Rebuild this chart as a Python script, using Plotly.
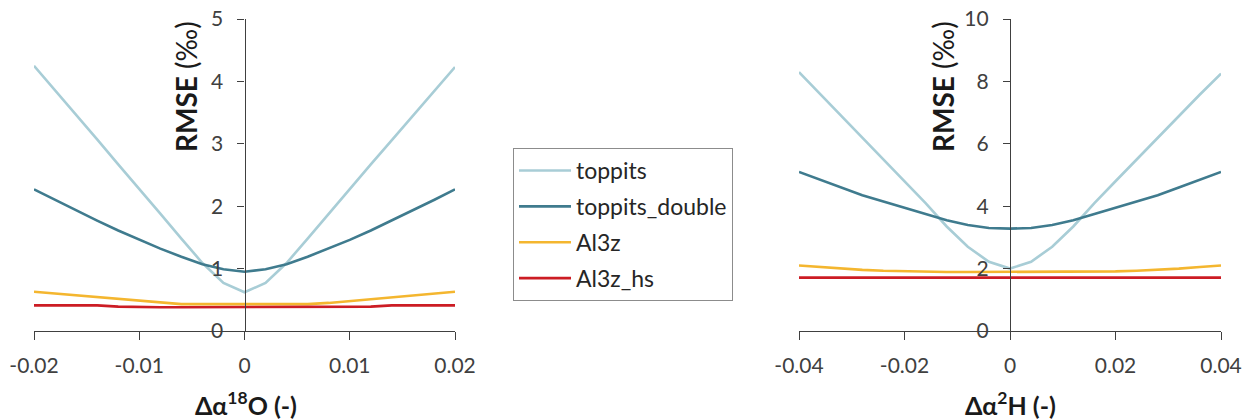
import plotly.graph_objects as go

# ---------------- data ----------------
x_o18 = [-0.020, -0.018, -0.016, -0.014, -0.012, -0.010, -0.008, -0.006, -0.004, -0.002, 0.0,
         0.002, 0.004, 0.006, 0.008, 0.010, 0.012, 0.014, 0.016, 0.018, 0.020]
o18_toppits = [4.25, 3.86, 3.46, 3.07, 2.67, 2.28, 1.88, 1.48, 1.09, 0.77, 0.62,
               0.77, 1.09, 1.48, 1.88, 2.28, 2.67, 3.06, 3.45, 3.84, 4.23]
o18_toppits_double = [2.27, 2.10, 1.93, 1.77, 1.61, 1.46, 1.32, 1.19, 1.07, 0.99, 0.95,
                      0.99, 1.07, 1.19, 1.32, 1.46, 1.61, 1.77, 1.93, 2.10, 2.27]
o18_al3z = [0.63, 0.60, 0.57, 0.54, 0.51, 0.48, 0.45, 0.43, 0.43, 0.43, 0.43,
            0.43, 0.43, 0.43, 0.45, 0.48, 0.51, 0.54, 0.57, 0.60, 0.63]
o18_al3z_hs = [0.41, 0.41, 0.41, 0.41, 0.39, 0.38, 0.38, 0.38, 0.38, 0.38, 0.38,
               0.38, 0.38, 0.38, 0.38, 0.38, 0.39, 0.41, 0.41, 0.41, 0.41]

x_h2 = [-0.040, -0.036, -0.032, -0.028, -0.024, -0.020, -0.016, -0.012, -0.008, -0.004, 0.0,
        0.004, 0.008, 0.012, 0.016, 0.020, 0.024, 0.028, 0.032, 0.036, 0.040]
h2_toppits = [8.30, 7.60, 6.90, 6.20, 5.50, 4.80, 4.10, 3.35, 2.70, 2.22, 2.00,
              2.22, 2.70, 3.35, 4.10, 4.80, 5.50, 6.20, 6.90, 7.58, 8.25]
h2_toppits_double = [5.10, 4.85, 4.60, 4.35, 4.15, 3.95, 3.75, 3.55, 3.40, 3.30, 3.28,
                     3.30, 3.40, 3.55, 3.75, 3.95, 4.15, 4.35, 4.60, 4.85, 5.10]
h2_al3z = [2.10, 2.05, 2.00, 1.96, 1.93, 1.91, 1.90, 1.89, 1.89, 1.89, 1.89,
           1.89, 1.89, 1.89, 1.90, 1.91, 1.93, 1.96, 2.00, 2.05, 2.10]
h2_al3z_hs = [1.71] * 21

series_names = ["toppits", "toppits_double", "Al3z", "Al3z_hs"]
series_colors = ["#a8cdd6", "#3f7b8e", "#f4b62f", "#cc1c24"]

o18_ticks = [-0.02, -0.01, 0.0, 0.01, 0.02]
o18_ticktext = ["-0.02", "-0.01", "0", "0.01", "0.02"]
h2_ticks = [-0.04, -0.02, 0.0, 0.02, 0.04]
h2_ticktext = ["-0.04", "-0.02", "0", "0.02", "0.04"]

y1_ticks = [0, 1, 2, 3, 4, 5]
y2_ticks = [0, 2, 4, 6, 8, 10]

# ---------------- figure ----------------
W, H = 1245, 419
FONT = "Lato, 'Open Sans', sans-serif"
AXC = "#404040"
TXT = "#404040"


def fx(px):
    return px / W


def fy(py):
    return 1 - py / H


fig = go.Figure()

o18_series = [o18_toppits, o18_toppits_double, o18_al3z, o18_al3z_hs]
h2_series = [h2_toppits, h2_toppits_double, h2_al3z, h2_al3z_hs]

for name, col, ys in zip(series_names, series_colors, o18_series):
    fig.add_trace(go.Scatter(x=x_o18, y=ys, mode="lines", name=name,
                             line=dict(color=col, width=2.6),
                             legendgroup=name, showlegend=True,
                             xaxis="x", yaxis="y"))
for name, col, ys in zip(series_names, series_colors, h2_series):
    fig.add_trace(go.Scatter(x=x_h2, y=ys, mode="lines", name=name,
                             line=dict(color=col, width=2.6),
                             legendgroup=name, showlegend=False,
                             xaxis="x2", yaxis="y2"))

xd1 = [fx(34), fx(455)]
xd2 = [fx(799), fx(1221)]
yd = [fy(331), fy(19)]


def ypos(dom, lo, hi):
    return dom[0] + (0 - lo) / (hi - lo) * (dom[1] - dom[0])


common_x = dict(showgrid=False, zeroline=False, showline=True, linecolor=AXC, linewidth=1.3,
                ticks="outside", ticklen=8, tickcolor=AXC, tickwidth=1.3, automargin=False,
                ticklabeloverflow="allow",
                tickfont=dict(family=FONT, size=21, color=TXT), ticklabelstandoff=8)
common_y = dict(showgrid=False, zeroline=False, showline=True, linecolor=AXC, linewidth=1.3,
                ticks="outside", ticklen=7, tickcolor=AXC, tickwidth=1.3, automargin=False,
                ticklabeloverflow="allow",
                tickfont=dict(family=FONT, size=21, color=TXT), ticklabelstandoff=10,
                anchor="free")

fig.update_layout(
    width=W, height=H,
    margin=dict(l=0, r=0, t=0, b=0, autoexpand=False),
    paper_bgcolor="white", plot_bgcolor="rgba(0,0,0,0)",
    xaxis=dict(domain=xd1, range=[-0.02, 0.02], tickvals=o18_ticks, ticktext=o18_ticktext,
               anchor="y", **common_x),
    yaxis=dict(domain=yd, range=[0, 5], tickvals=y1_ticks,
               position=ypos(xd1, -0.02, 0.02), **common_y),
    xaxis2=dict(domain=xd2, range=[-0.04, 0.04], tickvals=h2_ticks, ticktext=h2_ticktext,
                anchor="y2", **common_x),
    yaxis2=dict(domain=yd, range=[0, 10], tickvals=y2_ticks,
                position=ypos(xd2, -0.04, 0.04), **common_y),
    legend=dict(x=fx(513), y=fy(148), xanchor="left", yanchor="top",
                bordercolor="#8c8c8c", borderwidth=1, bgcolor="white",
                font=dict(family=FONT, size=23, color="#262626"),
                traceorder="grouped", tracegroupgap=3, itemwidth=52),
    showlegend=True,
)

ytitle_font = dict(family=FONT, size=28, color="#1a1a1a")
xtitle_font = dict(family=FONT, size=25, color="#1a1a1a")
fig.add_annotation(x=fx(186), y=fy(87), xref="paper", yref="paper", xanchor="center",
                   yanchor="middle", text="<b>RMSE</b> (‰)", textangle=-90, showarrow=False,
                   font=ytitle_font)
fig.add_annotation(x=fx(943), y=fy(87), xref="paper", yref="paper", xanchor="center",
                   yanchor="middle", text="<b>RMSE</b> (‰)", textangle=-90, showarrow=False,
                   font=ytitle_font)
fig.add_annotation(x=fx(246), y=fy(403), xref="paper", yref="paper", xanchor="center",
                   yanchor="middle", text="<b>Δα<sup>18</sup>O (-)</b>", showarrow=False,
                   font=xtitle_font)
fig.add_annotation(x=fx(1010), y=fy(403), xref="paper", yref="paper", xanchor="center",
                   yanchor="middle", text="<b>Δα<sup>2</sup>H (-)</b>", showarrow=False,
                   font=xtitle_font)

# remove the browser's default 8px body margin so the figure fills the window exactly
fig.write_html("out.html", config={"displayModeBar": False},
               post_script="document.body.style.margin='0';")
